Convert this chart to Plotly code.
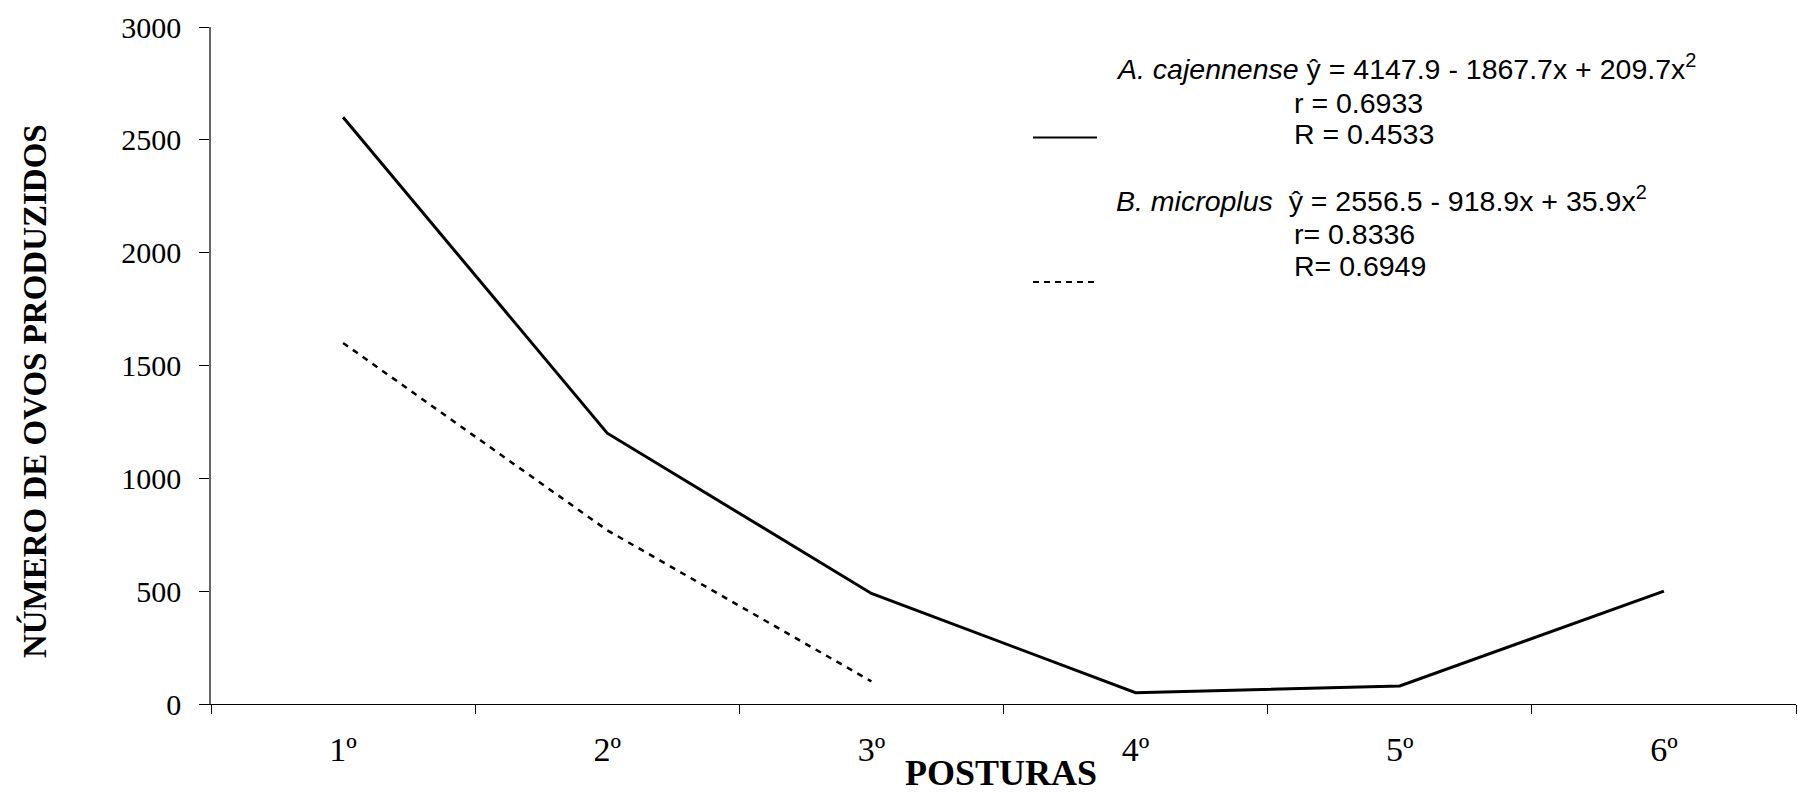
import plotly.graph_objects as go

# ---- data ----
postures = ["1º", "2º", "3º", "4º", "5º", "6º"]
cajennense = [2600, 1200, 490, 50, 80, 500]
microplus_postures = ["1º", "2º", "3º"]
microplus = [1600, 770, 100]
y_ticks = [0, 500, 1000, 1500, 2000, 2500, 3000]

eq_a = "<i>A. cajennense</i> ŷ = 4147.9 - 1867.7x + 209.7x<sup>2</sup>"
r_a = "r = 0.6933"
R_a = "R = 0.4533"
eq_b = "<i>B. microplus</i>  ŷ = 2556.5 - 918.9x + 35.9x<sup>2</sup>"
r_b = "r= 0.8336"
R_b = "R= 0.6949"

W, H = 1798, 795
L, R, T, B = 211, 2, 27, 91
PW = W - L - R
PH = H - T - B


def px(x):
    return (x - L) / PW


def py(y):
    return (H - B - y) / PH


fig = go.Figure()
fig.add_trace(go.Scatter(x=postures, y=cajennense, mode="lines",
                         line=dict(color="black", width=3), showlegend=False))
fig.add_trace(go.Scatter(x=microplus_postures, y=microplus, mode="lines",
                         line=dict(color="black", width=2.5, dash="6px,6px"),
                         showlegend=False))

sans = "Liberation Sans"
serif = "Liberation Serif"
fs = 28.5
anns = []
for txt, x, y in [(eq_a, 1114, 67), (r_a, 1292, 103), (R_a, 1292, 134),
                  (eq_b, 1114, 199), (r_b, 1292, 234), (R_b, 1292, 266)]:
    anns.append(dict(text=txt, x=px(x), y=py(y), xref="paper", yref="paper",
                     xanchor="left", yanchor="middle", showarrow=False,
                     font=dict(family=sans, size=fs, color="black")))

anns.append(dict(text="<b>NÚMERO DE OVOS PRODUZIDOS</b>", x=px(34.5), y=py(391.6),
                 xref="paper", yref="paper", textangle=-90, showarrow=False,
                 xanchor="center", yanchor="middle",
                 font=dict(family=serif, size=33, color="black")))
anns.append(dict(text="<b>POSTURAS</b>", x=px(1001), y=py(795),
                 xref="paper", yref="paper", showarrow=False,
                 xanchor="center", yanchor="bottom",
                 font=dict(family=serif, size=36, color="black")))

shapes = [
    dict(type="line", xref="paper", yref="paper", x0=px(1033), x1=px(1097),
         y0=py(137.5), y1=py(137.5), line=dict(color="black", width=2)),
    dict(type="line", xref="paper", yref="paper", x0=px(1033), x1=px(1097),
         y0=py(282), y1=py(282), line=dict(color="black", width=2, dash="6px,5px")),
]

fig.update_layout(
    width=W, height=H,
    margin=dict(l=L, r=R, t=T, b=B),
    paper_bgcolor="white", plot_bgcolor="white",
    annotations=anns, shapes=shapes,
    xaxis=dict(type="category", categoryorder="array", categoryarray=postures,
               range=[-0.5, 5.5], tickson="boundaries", ticks="outside",
               ticklen=9, tickcolor="black", tickwidth=1,
               showline=True, linecolor="black", linewidth=1,
               showgrid=False, zeroline=False, ticklabelstandoff=15,
               tickfont=dict(family=serif, size=34, color="black")),
    yaxis=dict(range=[0, 3000], tickvals=y_ticks, ticks="outside", ticklen=10,
               tickcolor="black", tickwidth=1, showline=True, linecolor="#666",
               linewidth=1.5, showgrid=False, zeroline=False,
               ticklabelstandoff=12,
               tickfont=dict(family=serif, size=30, color="black")),
)

fig.write_html("out.html")
